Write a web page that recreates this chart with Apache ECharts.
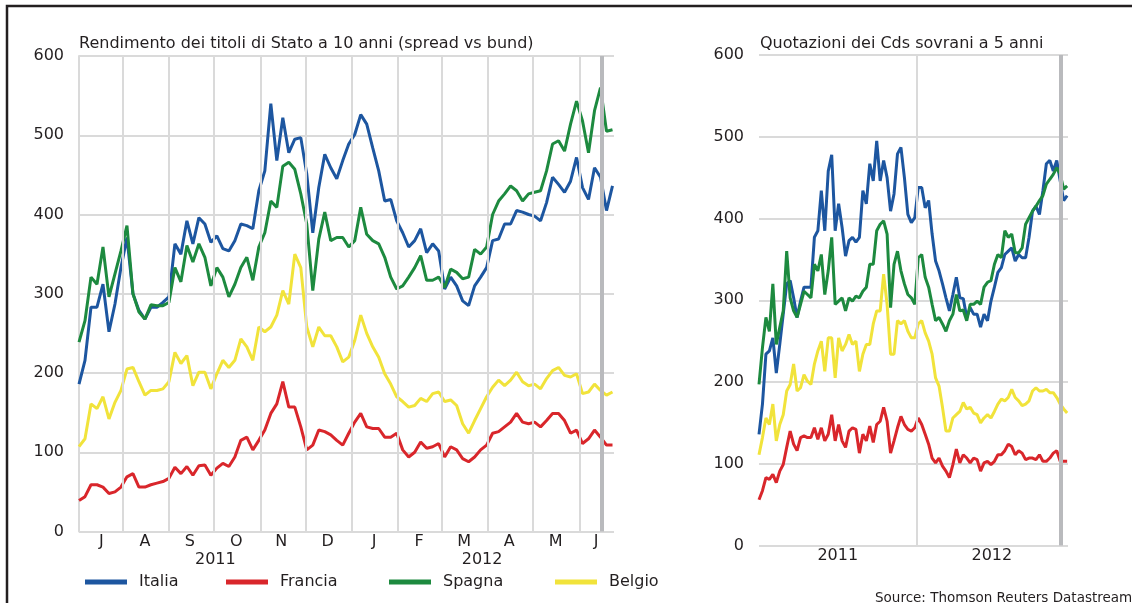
<!DOCTYPE html>
<html>
<head>
<meta charset="utf-8">
<script src="https://cdn.jsdelivr.net/npm/echarts@6/dist/echarts.min.js"></script>
<style>
  html, body { margin: 0; padding: 0; background: #fff; }
  #chart { width: 1132px; height: 603px; }
</style>
</head>
<body>
<div id="chart"></div>
<script>
// sample dates (every 4 days), shared by both panels
var dates = [
  '2011-07-03','2011-07-07','2011-07-11','2011-07-15','2011-07-19','2011-07-23','2011-07-27','2011-07-31',
  '2011-08-04','2011-08-08','2011-08-12','2011-08-16','2011-08-20','2011-08-24','2011-08-28',
  '2011-09-01','2011-09-05','2011-09-09','2011-09-13','2011-09-17','2011-09-21','2011-09-25','2011-09-29',
  '2011-10-03','2011-10-07','2011-10-11','2011-10-15','2011-10-19','2011-10-23','2011-10-27','2011-10-31',
  '2011-11-04','2011-11-08','2011-11-12','2011-11-16','2011-11-20','2011-11-24','2011-11-28',
  '2011-12-02','2011-12-06','2011-12-10','2011-12-14','2011-12-18','2011-12-22','2011-12-26','2011-12-30',
  '2012-01-03','2012-01-07','2012-01-11','2012-01-15','2012-01-19','2012-01-23','2012-01-27','2012-01-31',
  '2012-02-04','2012-02-08','2012-02-12','2012-02-16','2012-02-20','2012-02-24','2012-02-28',
  '2012-03-03','2012-03-07','2012-03-11','2012-03-15','2012-03-19','2012-03-23','2012-03-27','2012-03-31',
  '2012-04-04','2012-04-08','2012-04-12','2012-04-16','2012-04-20','2012-04-24','2012-04-28',
  '2012-05-02','2012-05-06','2012-05-10','2012-05-14','2012-05-18','2012-05-22','2012-05-26','2012-05-30',
  '2012-06-03','2012-06-07','2012-06-11','2012-06-15','2012-06-19','2012-06-23'
];

// 10y spread vs bund
var spreadItalia = [186,216,283,283,312,252,287,333,371,300,279,268,283,283,289,296,363,350,392,363,396,388,365,
  373,357,354,367,388,386,382,430,455,540,468,522,478,495,497,451,377,434,476,459,445,468,
  489,501,526,514,484,455,417,419,392,377,359,367,382,352,363,354,306,321,310,291,285,310,321,
  333,367,369,388,388,405,403,400,398,392,415,447,438,428,442,472,434,419,459,447,405,436];
var spreadFrancia = [39,44,59,59,56,48,50,56,69,73,56,56,59,61,63,67,81,73,82,71,83,84,71,
  80,86,82,94,115,119,103,115,128,149,161,189,157,157,132,103,109,128,126,122,115,109,
  124,138,149,132,130,130,119,119,124,103,94,100,113,105,107,111,94,107,103,92,88,94,103,
  109,124,126,132,138,149,138,136,138,132,140,149,149,140,124,128,111,117,128,119,109,109];
var spreadSpagna = [239,266,321,312,359,296,325,354,386,300,277,268,286,285,285,289,333,315,361,340,363,346,310,
  333,321,296,312,333,346,317,359,377,417,409,461,466,457,426,388,304,369,403,367,371,371,
  359,367,409,375,367,363,346,321,306,310,321,333,348,317,317,321,308,331,327,319,321,356,350,
  359,400,417,426,436,430,417,426,428,430,455,489,493,480,514,543,518,478,531,560,505,507];
var spreadBelgio = [107,117,161,155,170,142,163,178,205,207,189,172,178,178,180,189,226,212,222,184,201,201,180,
  199,216,207,216,243,233,216,258,252,258,273,304,287,350,333,258,233,258,247,247,233,214,
  220,241,273,250,233,220,199,186,170,164,157,159,168,164,174,176,164,166,159,136,124,140,155,
  170,182,191,184,191,201,189,184,186,180,193,203,207,197,195,199,174,176,186,178,172,176];

// 5y sovereign CDS
var cdsItalia = [136,173,234,238,254,211,246,283,320,324,303,279,299,316,316,316,377,385,434,385,458,478,385,418,389,354,373,377,371,377,
  434,418,467,446,495,446,471,450,409,430,479,487,450,405,395,401,438,438,413,422,381,348,336,320,303,287,307,328,303,302,
  279,291,283,283,267,283,275,299,316,334,340,356,360,364,348,356,352,352,377,409,415,405,434,467,471,458,471,446,422,428];
var cdsFrancia = [56,67,83,81,87,77,91,99,120,140,124,116,132,134,132,132,144,130,144,128,136,160,128,148,128,120,140,144,142,113,
  136,128,146,126,148,152,169,152,113,128,144,158,148,142,140,144,156,148,136,124,107,101,107,97,91,83,99,118,101,111,
  107,101,107,105,91,101,103,99,103,111,111,116,124,121,111,116,113,105,107,107,105,111,103,103,107,113,116,103,103,103];
var cdsSpagna = [197,242,279,262,320,246,267,287,360,303,287,279,295,311,307,303,344,336,356,307,336,377,295,299,303,287,303,299,305,303,
  311,316,344,344,385,393,397,381,291,344,360,336,320,307,303,295,352,356,328,316,295,275,279,271,262,275,283,307,287,288,
  275,295,295,299,295,316,322,324,344,356,352,385,377,381,358,358,364,393,401,409,415,422,428,442,448,454,462,454,436,440];
var cdsBelgio = [111,132,156,148,173,128,148,160,189,197,222,189,193,209,201,197,222,238,250,213,254,254,205,254,238,246,258,246,250,213,
  234,246,246,271,287,287,332,295,234,234,275,271,275,262,254,254,271,275,260,250,234,205,195,169,140,140,156,160,164,175,
  167,169,162,160,150,156,160,156,164,173,179,177,181,191,181,177,171,173,177,189,193,189,189,191,187,187,181,173,167,162];

// axis labels and reference dates
var monthLabels = ['J','A','S','O','N','D','J','F','M','A','M','J'];
var monthLabelDates = ['2011-07-18','2011-08-16','2011-09-15','2011-10-16','2011-11-15','2011-12-16',
  '2012-01-16','2012-02-15','2012-03-16','2012-04-15','2012-05-16','2012-06-12'];
var monthStarts = ['2011-08-01','2011-09-01','2011-10-01','2011-11-01','2011-12-01','2012-01-01',
  '2012-02-01','2012-03-01','2012-04-01','2012-05-01','2012-06-01'];
var yearLabels = ['2011','2012'];
var yearLabelDates = ['2011-10-02','2012-03-28'];
var yearStarts = ['2012-01-01'];
var lastUpdate = '2012-06-16';
var axisStart = '2011-07-03';
var axisEnd = '2012-06-24';
var seriesNames = ['Italia','Francia','Spagna','Belgio'];
var colors = ['#1d56a0','#d9262b','#1d8a3f','#f1e33b'];

var FONT = 'DejaVu Sans';
var INK = '#231f20';
var GRID = '#dadada';

// dates as local-time stamps, x axes are plain value axes over these
function t(s) {
    var p = s.split('-');
    return new Date(+p[0], +p[1] - 1, +p[2]).getTime();
}
function pairs(vals) {
    return dates.map(function (d, i) { return [t(d), vals[i]]; });
}
function labelAt(datesArr, labels) {
    var times = datesArr.map(t);
    return function (v) {
        var i = times.indexOf(v);
        return i < 0 ? '' : labels[i];
    };
}

var chart = echarts.init(document.getElementById('chart'), null, {renderer: 'canvas'});

function dateAxis(gridIndex, customDates, labels, margin) {
    return {
        gridIndex: gridIndex,
        type: 'value',
        position: 'bottom',
        min: t(axisStart),
        max: t(axisEnd),
        axisLine: {show: false},
        axisTick: {show: false},
        splitLine: {show: false},
        axisLabel: {
            customValues: customDates.map(t),
            formatter: labelAt(customDates, labels),
            margin: margin,
            fontFamily: FONT,
            fontSize: 16,
            color: INK,
            showMinLabel: true,
            showMaxLabel: true,
            hideOverlap: false
        }
    };
}

function valueAxis(gridIndex, showLine) {
    return {
        gridIndex: gridIndex,
        type: 'value',
        min: 0,
        max: 600,
        interval: 100,
        axisLine: {show: showLine, lineStyle: {color: GRID, width: 2}},
        axisTick: {show: false},
        axisLabel: {margin: 15, fontFamily: FONT, fontSize: 16, color: INK},
        splitLine: {show: true, lineStyle: {color: GRID, width: 2}}
    };
}

function refLines(xi, yi, starts) {
    var items = starts.map(function (d) { return {xAxis: t(d)}; });
    items.push({xAxis: t(lastUpdate), lineStyle: {color: '#b9babd', width: 4, type: 'solid'}});
    return {
        type: 'line',
        name: 'ref' + xi,
        xAxisIndex: xi,
        yAxisIndex: yi,
        data: [],
        z: 1,
        silent: true,
        markLine: {
            silent: true,
            symbol: 'none',
            label: {show: false},
            animation: false,
            lineStyle: {color: GRID, width: 2, type: 'solid'},
            data: items
        }
    };
}

function lineSeries(name, color, vals, xi, yi) {
    return {
        type: 'line',
        name: name,
        xAxisIndex: xi,
        yAxisIndex: yi,
        data: pairs(vals),
        showSymbol: false,
        symbol: 'none',
        z: 3,
        itemStyle: {color: color},
        lineStyle: {color: color, width: 3}
    };
}

var legendLefts = [85, 226, 389, 555];

var option = {
    animation: false,
    backgroundColor: '#fff',
    title: [
        {text: 'Rendimento dei titoli di Stato a 10 anni (spread vs bund)', left: 79, top: 36, padding: 0,
         textStyle: {fontFamily: FONT, fontSize: 16, fontWeight: 'normal', color: INK}},
        {text: 'Quotazioni dei Cds sovrani a 5 anni', left: 760, top: 36, padding: 0,
         textStyle: {fontFamily: FONT, fontSize: 16, fontWeight: 'normal', color: INK}}
    ],
    legend: seriesNames.map(function (name, i) {
        return {
            data: [name],
            left: legendLefts[i],
            top: 574,
            padding: 0,
            icon: 'rect',
            itemWidth: 42,
            itemHeight: 5,
            selectedMode: false,
            textStyle: {fontFamily: FONT, fontSize: 16, color: INK, padding: [0, 0, 0, 7]}
        };
    }),
    grid: [
        {left: 79, top: 56, width: 535, height: 475.5},
        {left: 759, top: 55, width: 309, height: 490.5}
    ],
    xAxis: [
        dateAxis(0, monthLabelDates, monthLabels, 2),
        dateAxis(0, yearLabelDates, yearLabels, 20),
        dateAxis(1, yearLabelDates, yearLabels, 2)
    ],
    yAxis: [valueAxis(0, true), valueAxis(1, false)],
    graphic: [
        {type: 'polyline', silent: true, shape: {points: [[7, 603], [7, 6], [1132, 6]]},
         style: {stroke: '#231f20', lineWidth: 2.5, fill: null}},
        {type: 'text', left: 875, top: 591, silent: true,
         style: {text: 'Source: Thomson Reuters Datastream', fontFamily: FONT, fontSize: 13.5, fill: INK}}
    ],
    series: [
        refLines(0, 0, monthStarts),
        refLines(2, 1, yearStarts),
        lineSeries('Italia', colors[0], spreadItalia, 0, 0),
        lineSeries('Francia', colors[1], spreadFrancia, 0, 0),
        lineSeries('Spagna', colors[2], spreadSpagna, 0, 0),
        lineSeries('Belgio', colors[3], spreadBelgio, 0, 0),
        lineSeries('Italia', colors[0], cdsItalia, 2, 1),
        lineSeries('Francia', colors[1], cdsFrancia, 2, 1),
        lineSeries('Spagna', colors[2], cdsSpagna, 2, 1),
        lineSeries('Belgio', colors[3], cdsBelgio, 2, 1)
    ]
};

chart.setOption(option);
</script>
</body>
</html>
